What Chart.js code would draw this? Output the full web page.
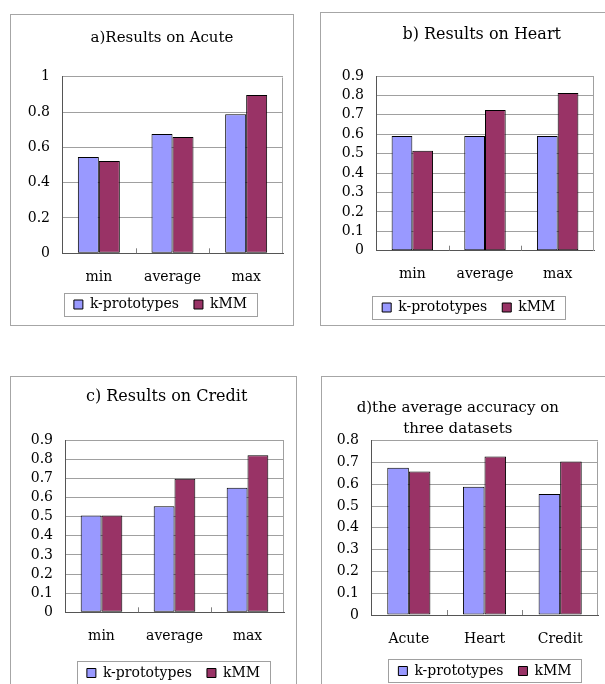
<!DOCTYPE html>
<html>
<head>
<meta charset="utf-8">
<script src="https://cdn.jsdelivr.net/npm/chart.js@4.4.0/dist/chart.umd.min.js"></script>
<style>
  html, body { margin: 0; padding: 0; background: #fff; }
  body { width: 605px; height: 684px; overflow: hidden; position: relative; }
  .panel { position: absolute; box-sizing: border-box; border: 1px solid #a6a6a6; }
  canvas { position: absolute; }
</style>
</head>
<body>
<div class="panel" style="left:10px;top:14px;width:284px;height:312px"></div>
<div class="panel" style="left:320px;top:12px;width:300px;height:314px"></div>
<div class="panel" style="left:10px;top:376px;width:287px;height:330px"></div>
<div class="panel" style="left:321px;top:376px;width:300px;height:330px"></div>
<canvas id="chartA" width="283" height="320" style="left:11px;top:15px"></canvas>
<canvas id="chartB" width="283" height="320" style="left:322px;top:13px"></canvas>
<canvas id="chartC" width="284" height="320" style="left:12px;top:377px"></canvas>
<canvas id="chartD" width="282" height="320" style="left:323px;top:377px"></canvas>
<script>
var categories = ['min', 'average', 'max'];
var datasetNames = ['Acute', 'Heart', 'Credit'];
var seriesNames = ['k-prototypes', 'kMM'];

var acuteKProto = [0.545, 0.675, 0.787];
var acuteKMM = [0.523, 0.658, 0.896];
var heartKProto = [0.591, 0.591, 0.591];
var heartKMM = [0.515, 0.725, 0.812];
var creditKProto = [0.507, 0.555, 0.652];
var creditKMM = [0.507, 0.699, 0.822];
var averageKProto = [0.676, 0.589, 0.555];
var averageKMM = [0.659, 0.727, 0.704];

var yLabelsTo1 = ['0', '0.2', '0.4', '0.6', '0.8', '1'];
var yLabelsTo09 = ['0', '0.1', '0.2', '0.3', '0.4', '0.5', '0.6', '0.7', '0.8', '0.9'];
var yLabelsTo08 = ['0', '0.1', '0.2', '0.3', '0.4', '0.5', '0.6', '0.7', '0.8'];

Chart.defaults.font.family = "'DejaVu Serif', serif";
Chart.defaults.color = '#000';

// light frame on right of plot area + small inside ticks between categories
var plotFrame = {
	id: 'plotFrame',
	beforeDatasetsDraw: function(chart) {
		var a = chart.chartArea, ctx = chart.ctx;
		var r = Math.round(a.right) - 0.5, t = Math.round(a.top) + 0.5;
		ctx.save();
		ctx.strokeStyle = '#a0a0a0';
		ctx.lineWidth = 1;
		ctx.beginPath();
		ctx.moveTo(r, t);
		ctx.lineTo(r, Math.round(a.bottom));
		ctx.stroke();
		ctx.restore();
	},
	afterDatasetsDraw: function(chart) {
		var a = chart.chartArea, ctx = chart.ctx, xs = chart.scales.x;
		ctx.save();
		ctx.strokeStyle = '#808080';
		ctx.lineWidth = 1;
		ctx.beginPath();
		for (var i = 1; i < xs.ticks.length; i++) {
			var x = Math.round((xs.getPixelForTick(i - 1) + xs.getPixelForTick(i)) / 2) + 0.5;
			ctx.moveTo(x, a.bottom - 5);
			ctx.lineTo(x, a.bottom);
		}
		ctx.stroke();
		ctx.restore();
	}
};

// puts title / legend where the panel has them, and draws the legend box
var blockPos = {
	id: 'blockPos',
	afterLayout: function(chart, args, o) {
		var t = chart.titleBlock, lg = chart.legend;
		var dx = o.titleX - (t.left + t.right) / 2;
		t.left += dx; t.right += dx;
		var pad = lg.options.labels.padding;
		dx = o.legendX - (lg.left + lg.right) / 2;
		var dy = o.legendY - (lg.top + pad + 7);
		lg.left += dx; lg.right += dx;
		lg.top += dy; lg.bottom += dy;
	},
	afterDraw: function(chart) {
		var lg = chart.legend, hb = lg.legendHitBoxes, ctx = chart.ctx;
		if (!hb || !hb.length) return;
		var l = hb[0].left, last = hb[hb.length - 1];
		var r = last.left + last.width;
		var yc = lg.top + lg.options.labels.padding + 7;
		ctx.save();
		ctx.strokeStyle = '#a0a0a0';
		ctx.lineWidth = 1;
		ctx.strokeRect(Math.round(l - 10) + 0.5, Math.round(yc - 12) + 0.5, Math.round(r - l + 20), 23);
		ctx.restore();
	}
};

function drawPanel(id, p) {
	new Chart(document.getElementById(id), {
		type: 'bar',
		data: {
			labels: p.labels,
			datasets: [{
				label: seriesNames[0],
				data: p.kProto,
				backgroundColor: '#9999ff',
				borderColor: '#000',
				borderWidth: 1,
				borderSkipped: false,
				categoryPercentage: 0.57,
				barPercentage: 1
			}, {
				label: seriesNames[1],
				data: p.kmm,
				backgroundColor: '#993366',
				borderColor: '#000',
				borderWidth: 1,
				borderSkipped: false,
				categoryPercentage: 0.57,
				barPercentage: 1
			}]
		},
		options: {
			responsive: false,
			animation: false,
			events: [],
			layout: { padding: p.pad },
			plugins: {
				title: {
					display: true,
					text: p.title,
					color: '#000',
					font: { size: p.titleSize, weight: 'normal', lineHeight: p.titleLH },
					padding: p.titlePad
				},
				legend: {
					position: 'bottom',
					labels: { boxWidth: 9, boxHeight: 9, padding: 15, color: '#000', font: { size: 14 } }
				},
				tooltip: { enabled: false },
				blockPos: p.place
			},
			scales: {
				x: {
					grid: { display: true, drawOnChartArea: false, drawTicks: false },
					border: { color: '#555' },
					ticks: { padding: 15.5, color: '#000', font: { size: 14 } },
					afterFit: function(s) { s.height = 33; }
				},
				y: {
					min: 0,
					max: p.max,
					ticks: {
						stepSize: p.step,
						autoSkip: false,
						padding: 12,
						color: '#000',
						font: { size: 14 },
						callback: function(v, i) { return p.yLabels[i]; }
					},
					grid: { color: '#a0a0a0', drawTicks: false },
					border: { color: '#555' },
					afterFit: function(s) { s.width = p.yw; }
				}
			}
		},
		plugins: [plotFrame, blockPos]
	});
}

drawPanel('chartA', {
	labels: categories, kProto: acuteKProto, kmm: acuteKMM,
	title: 'a)Results on Acute', titleSize: 15, titleLH: 1.2, titlePad: { top: 14, bottom: 29.7 },
	pad: { left: 0, right: 11, top: 0, bottom: 9.7 },
	yw: 51, max: 1, step: 0.2, yLabels: yLabelsTo1,
	place: { titleX: 151, legendX: 149.5, legendY: 289.5 }
});
drawPanel('chartB', {
	labels: categories, kProto: heartKProto, kmm: heartKMM,
	title: 'b) Results on Heart', titleSize: 16, titleLH: 1.2, titlePad: { top: 12.4, bottom: 31.4 },
	pad: { left: 0, right: 11, top: 0, bottom: 10.3 },
	yw: 54, max: 0.9, step: 0.1, yLabels: yLabelsTo09,
	place: { titleX: 159.7, legendX: 146.8, legendY: 294.5 }
});
drawPanel('chartC', {
	labels: categories, kProto: creditKProto, kmm: creditKMM,
	title: 'c) Results on Credit', titleSize: 16, titleLH: 1.2, titlePad: { top: 10.1, bottom: 34 },
	pad: { left: 0, right: 12, top: 0, bottom: 12.7 },
	yw: 53, max: 0.9, step: 0.1, yLabels: yLabelsTo09,
	place: { titleX: 154.7, legendX: 161.5, legendY: 296 }
});
drawPanel('chartD', {
	labels: datasetNames, kProto: averageKProto, kmm: averageKMM,
	title: ['d)the average accuracy on', 'three datasets'], titleSize: 15, titleLH: 1.4, titlePad: { top: 20.5, bottom: 1.2 },
	pad: { left: 0, right: 7, top: 0, bottom: 10 },
	yw: 48, max: 0.8, step: 0.1, yLabels: yLabelsTo08,
	place: { titleX: 134.8, legendX: 162, legendY: 294 }
});
</script>
</body>
</html>
